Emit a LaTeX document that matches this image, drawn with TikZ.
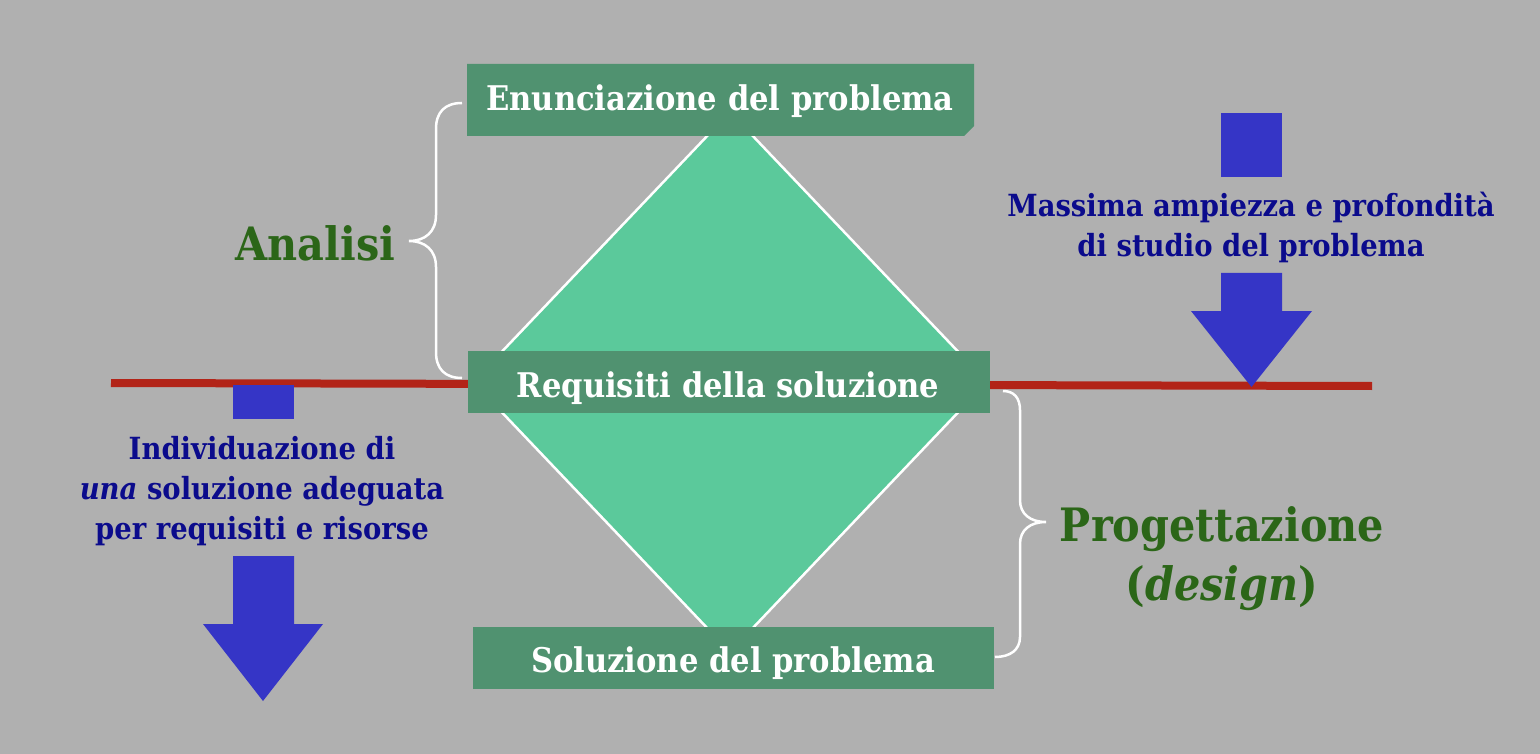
\documentclass[tikz,border=0pt]{standalone}
\usepackage{fontspec}
\setmainfont{DejaVu Serif Condensed}
\definecolor{bgc}{HTML}{B0B0B0}
\definecolor{diac}{HTML}{5BC99B}
\definecolor{boxc}{HTML}{509270}
\definecolor{redc}{HTML}{B22418}
\definecolor{bluec}{HTML}{3535C6}
\definecolor{navyc}{HTML}{0B0B8C}
\definecolor{dkgreen}{HTML}{2B6618}
\tikzset{
  boxfill/.style={fill=boxc},
  boxtext/.style={text=white, font=\fontsize{34}{40}\selectfont\bfseries, inner sep=0pt, anchor=base},
  bluetext/.style={text=navyc, font=\fontsize{30.5}{40}\selectfont\bfseries, align=center, inner sep=0pt, anchor=base},
  bigtext/.style={text=dkgreen, font=\fontsize{46}{59}\selectfont\bfseries, align=center, inner sep=0pt, anchor=base},
  bracestyle/.style={draw=white, line width=2.5pt},
  bluearrow/.style={fill=bluec},
}
\begin{document}
\begin{tikzpicture}[x=1pt,y=-1pt]
\fill[bgc] (0,0) rectangle (1540,754);
\useasboundingbox (0,0) rectangle (1540,754);
% diamond
\draw[white, line width=2.5pt, fill=diac] (730,112) -- (987,382) -- (730,652) -- (473,382) -- cycle;
% red line
\coordinate (lineL) at (111,383);
\coordinate (lineR) at (1372,386);
\draw[redc, line width=8pt] (lineL) -- (lineR);
% boxes
\fill[boxfill] (467,64) -- (974,64) -- (974,126) -- (964,136) -- (467,136) -- cycle;
\node[boxtext] (enun) at (720,111) {Enunciazione del problema};
\fill[boxfill] (468,351) rectangle (990,413);
\node[boxtext] (req) at (728,397) {Requisiti della soluzione};
\fill[boxfill] (473,627) rectangle (994,689);
\node[boxtext] (sol) at (733,672) {Soluzione del problema};
% braces
\draw[bracestyle] (462,103) .. controls (445,103) and (436,112) .. (436,129) -- (436,215) .. controls (436,232) and (425,241) .. (409,241) .. controls (425,241) and (436,250) .. (436,267) -- (436,352) .. controls (436,369) and (445,378) .. (462,378);
\draw[bracestyle] (1003,391) .. controls (1014,391) and (1020,398) .. (1020,410) -- (1020,500) .. controls (1020,514) and (1030,522) .. (1046,522) .. controls (1030,522) and (1020,530) .. (1020,544) -- (1020,637) .. controls (1020,650) and (1010,657) .. (995,657);
% labels
\node[bigtext] (analisi) at (315.5,261) {Analisi};
\node[bigtext] (prog) at (1222,600) {Progettazione\\(\textit{design})};
% right blue arrow
\fill[bluearrow] (1221,113) rectangle (1282,177);
\node[bluetext] (massima) at (1251,257) {Massima ampiezza e profondità\\di studio del problema};
\fill[bluearrow] (1221,273) -- (1282,273) -- (1282,311) -- (1312,311) -- (1251.5,387) -- (1191,311) -- (1221,311) -- cycle;
% left blue arrow
\fill[bluearrow] (233,385) rectangle (294,419);
\node[bluetext] (indiv) at (262,539) {Individuazione di\\\textit{una} soluzione adeguata\\per requisiti e risorse};
\fill[bluearrow] (233,556) -- (294,556) -- (294,624) -- (323,624) -- (263,701) -- (203,624) -- (233,624) -- cycle;
\end{tikzpicture}
\end{document}
